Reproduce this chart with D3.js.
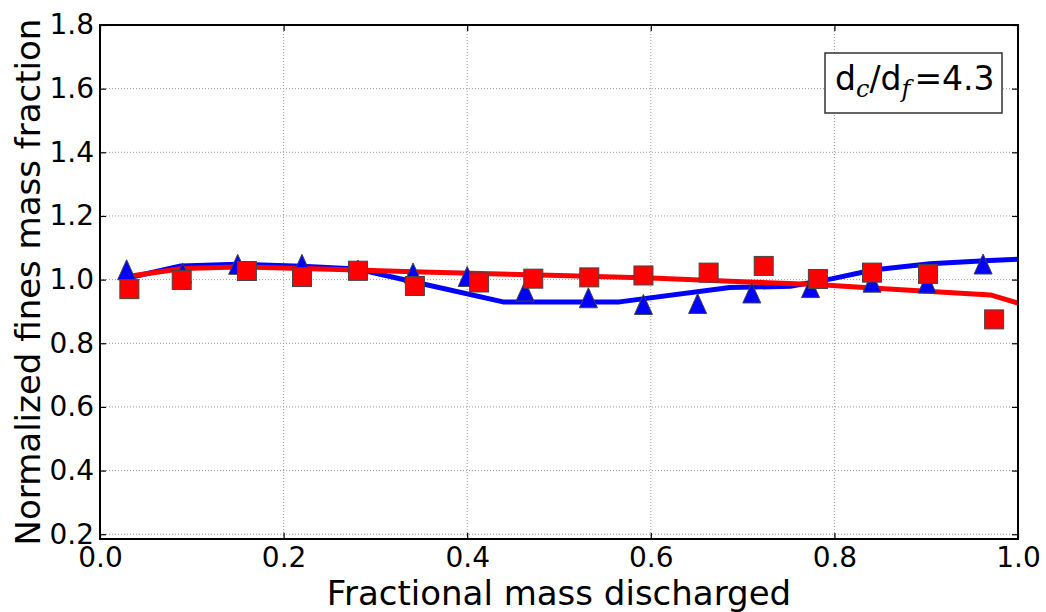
<!DOCTYPE html>
<html>
<head>
<meta charset="utf-8">
<script src="https://cdn.jsdelivr.net/npm/d3@7"></script>
<style>
  body { margin: 0; background: #fff; }
  text { font-family: "DejaVu Sans", sans-serif; }
</style>
</head>
<body>
<div id="viz"></div>
<script>
// data
var triX = [0.029, 0.090, 0.150, 0.220, 0.281, 0.341, 0.400, 0.463, 0.532, 0.592, 0.651, 0.710, 0.774, 0.841, 0.901, 0.962];
var triY = [1.031, 1.021, 1.048, 1.048, 1.030, 1.021, 1.010, 0.964, 0.943, 0.922, 0.925, 0.958, 0.975, 0.992, 0.989, 1.049];

var sqX = [0.032, 0.089, 0.160, 0.220, 0.281, 0.343, 0.413, 0.472, 0.533, 0.592, 0.663, 0.723, 0.782, 0.841, 0.902, 0.974];
var sqY = [0.970, 0.999, 1.027, 1.008, 1.028, 0.980, 0.991, 1.003, 1.007, 1.013, 1.022, 1.043, 1.002, 1.022, 1.018, 0.875];

// model curves
var blueX = [0.030, 0.088, 0.150, 0.220, 0.280, 0.334, 0.439, 0.566, 0.686, 0.752, 0.798, 0.842, 0.904, 0.969, 1.000];
var blueY = [1.005, 1.043, 1.048, 1.042, 1.033, 0.998, 0.930, 0.930, 0.975, 0.979, 1.003, 1.030, 1.050, 1.060, 1.064];

var redX = [0.030, 0.090, 0.150, 0.220, 0.280, 0.340, 0.500, 0.600, 0.700, 0.780, 0.850, 0.970, 1.000];
var redY = [1.010, 1.035, 1.040, 1.035, 1.030, 1.025, 1.013, 1.005, 0.993, 0.985, 0.972, 0.952, 0.926];

var xTicks = [0.0, 0.2, 0.4, 0.6, 0.8, 1.0];
var yTicks = [0.2, 0.4, 0.6, 0.8, 1.0, 1.2, 1.4, 1.6, 1.8];

var margin = {top: 25, right: 28, bottom: 73, left: 100},
    width = 1046 - margin.left - margin.right,
    height = 612 - margin.top - margin.bottom;

var svg = d3.select("#viz")
  .append("svg")
    .attr("width", 1046)
    .attr("height", 612)
  .append("g")
    .attr("transform", "translate(" + margin.left + "," + margin.top + ")");

var x = d3.scaleLinear().domain([0, 1]).range([0, width]);
var y = d3.scaleLinear().domain([0.185, 1.8]).range([height, 0]);

// grid
svg.append("g")
  .selectAll("line.gx")
  .data(xTicks.slice(1, -1))
  .enter().append("line")
    .attr("x1", d => x(d)).attr("x2", d => x(d))
    .attr("y1", 0).attr("y2", height)
    .attr("stroke", "#999").attr("stroke-width", 1)
    .attr("stroke-dasharray", "1,2");
svg.append("g")
  .selectAll("line.gy")
  .data(yTicks)
  .enter().append("line")
    .attr("x1", 0).attr("x2", width)
    .attr("y1", d => y(d)).attr("y2", d => y(d))
    .attr("stroke", "#999").attr("stroke-width", 1)
    .attr("stroke-dasharray", "1,2");

// axes with inward ticks
var fmt = d3.format(".1f");
var xAxis = svg.append("g")
  .attr("transform", "translate(0," + height + ")")
  .call(d3.axisBottom(x).tickValues(xTicks).tickFormat(fmt).tickSizeInner(-6).tickSizeOuter(0).tickPadding(8));
var xAxisTop = svg.append("g")
  .call(d3.axisTop(x).tickValues(xTicks).tickFormat("").tickSizeInner(-6).tickSizeOuter(0));
var yAxis = svg.append("g")
  .call(d3.axisLeft(y).tickValues(yTicks).tickFormat(fmt).tickSizeInner(-6).tickSizeOuter(0).tickPadding(6));
var yAxisRight = svg.append("g")
  .attr("transform", "translate(" + width + ",0)")
  .call(d3.axisRight(y).tickValues(yTicks).tickFormat("").tickSizeInner(-6).tickSizeOuter(0));

[xAxis, xAxisTop, yAxis, yAxisRight].forEach(function(a) {
  a.select(".domain").remove();
  a.selectAll(".tick line").attr("stroke", "#000").attr("stroke-width", 1.2);
  a.selectAll("text").attr("font-size", 28).attr("fill", "#000")
    .style("font-family", "'DejaVu Sans', sans-serif");
});
xAxis.selectAll("text").attr("dy", "0.71em");

// lines
var line = d3.line().x(d => x(d[0])).y(d => y(d[1]));
svg.append("path")
  .datum(d3.zip(blueX, blueY))
  .attr("fill", "none").attr("stroke", "#0000ff").attr("stroke-width", 5)
  .attr("stroke-linejoin", "round")
  .attr("d", line);
svg.append("path")
  .datum(d3.zip(redX, redY))
  .attr("fill", "none").attr("stroke", "#ff0000").attr("stroke-width", 5)
  .attr("stroke-linejoin", "round")
  .attr("d", line);

// triangles
svg.append("g")
  .selectAll("path")
  .data(d3.zip(triX, triY))
  .enter().append("path")
    .attr("d", "M0,-10L9,10L-9,10Z")
    .attr("transform", d => "translate(" + x(d[0]) + "," + y(d[1]) + ")")
    .attr("fill", "#0000ff").attr("stroke", "#444").attr("stroke-width", 1);

// squares
svg.append("g")
  .selectAll("rect")
  .data(d3.zip(sqX, sqY))
  .enter().append("rect")
    .attr("x", d => x(d[0]) - 9.5).attr("y", d => y(d[1]) - 9.5)
    .attr("width", 19).attr("height", 19)
    .attr("fill", "#ff0000").attr("stroke", "#444").attr("stroke-width", 1);

// frame
svg.append("rect")
  .attr("width", width).attr("height", height)
  .attr("fill", "none").attr("stroke", "#000").attr("stroke-width", 2);

// annotation box
var box = svg.append("g").attr("transform", "translate(" + (825 - margin.left) + "," + (53 - margin.top) + ")");
box.append("rect")
  .attr("width", 177).attr("height", 60)
  .attr("fill", "#fff").attr("stroke", "#333").attr("stroke-width", 1.5);
var t = box.append("text")
  .attr("x", 10).attr("y", 37)
  .attr("font-size", 33).attr("fill", "#000");
t.append("tspan").text("d");
t.append("tspan").attr("dy", 7).attr("font-size", 24)
  .style("font-family", "'DejaVu Serif', serif").attr("font-style", "italic").text("c");
t.append("tspan").attr("dy", -7).text("/d");
t.append("tspan").attr("dy", 7).attr("font-size", 24)
  .style("font-family", "'DejaVu Serif', serif").attr("font-style", "italic").text("f");
t.append("tspan").attr("dy", -7).attr("dx", 4).text("=4.3");

// axis labels
svg.append("text")
  .attr("x", width / 2).attr("y", height + 66)
  .attr("text-anchor", "middle").attr("font-size", 34).attr("fill", "#000")
  .text("Fractional mass discharged");
svg.append("text")
  .attr("transform", "translate(" + (-60) + "," + (height / 2) + ") rotate(-90)")
  .attr("text-anchor", "middle").attr("font-size", 34).attr("fill", "#000")
  .text("Normalized fines mass fraction");
</script>
</body>
</html>
